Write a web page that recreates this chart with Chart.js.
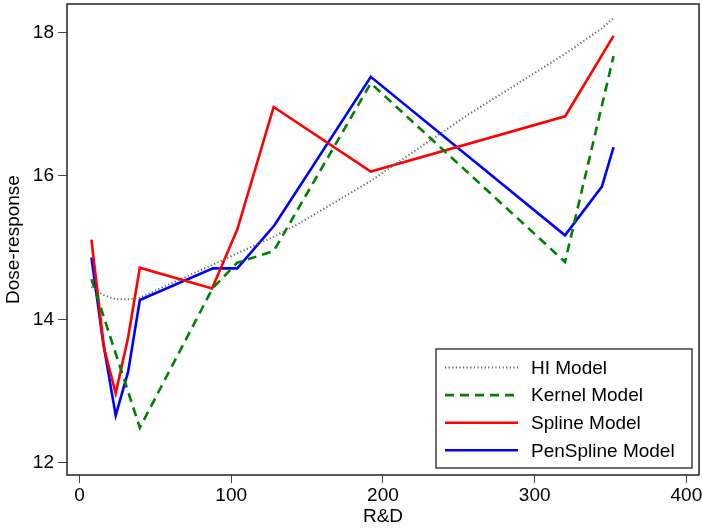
<!DOCTYPE html>
<html>
<head>
<meta charset="utf-8">
<script src="https://cdn.jsdelivr.net/npm/chart.js@4/dist/chart.umd.min.js"></script>
<style>
  html, body { margin: 0; padding: 0; background: #fff; }
  #wrap { width: 702px; height: 528px; }
</style>
</head>
<body>
<div id="wrap"><canvas id="c" width="702" height="528"></canvas></div>
<script>
// Dose-response curves of four models over R&D.

var X_TICKS = [0, 100, 200, 300, 400];
var Y_TICKS = [12, 14, 16, 18];

// HI model (smooth, dotted)
var RD_HI = [7.9, 15.6, 23.9, 32.1, 39.8, 52.9, 87.7, 104.0, 128.0, 145.0, 192.0, 256.0, 320.0, 344.0, 352.0];
var HI = [14.45, 14.34, 14.28, 14.28, 14.30, 14.43, 14.76, 14.92, 15.15, 15.34, 15.93, 16.85, 17.70, 18.05, 18.20];

// Kernel model (dashed green)
var RD_KERNEL = [7.9, 39.8, 87.7, 104.0, 128.0, 192.0, 320.0, 352.0];
var KERNEL = [14.56, 12.49, 14.43, 14.79, 14.95, 17.29, 14.80, 17.67];

// Spline model (red)
var RD_SPLINE = [7.9, 16.2, 23.9, 32.1, 39.8, 87.4, 104.0, 128.0, 192.0, 320.1, 352.0];
var SPLINE = [15.11, 13.60, 12.97, 13.75, 14.72, 14.43, 15.25, 16.96, 16.06, 16.83, 17.95];

// PenSpline model (blue)
var RD_PEN = [7.9, 15.6, 23.9, 32.1, 39.8, 88.0, 104.0, 128.5, 192.0, 320.0, 344.3, 352.0];
var PEN = [14.86, 13.68, 12.66, 13.27, 14.27, 14.71, 14.71, 15.31, 17.38, 15.17, 15.85, 16.40];

var FONT = "'Liberation Sans', Arial, sans-serif";

function pts(xs, ys) {
  return xs.map(function (x, i) { return { x: x, y: ys[i] }; });
}

// R-style box round the plot region
var boxPlugin = {
  id: "box",
  afterDatasetsDraw: function (chart) {
    var a = chart.chartArea, ctx = chart.ctx;
    ctx.save();
    ctx.strokeStyle = "#222";
    ctx.lineWidth = 1.5;
    ctx.strokeRect(a.left, a.top, a.right - a.left, a.bottom - a.top);
    ctx.restore();
  }
};

// legend box in the lower right, like R's legend()
var legendPlugin = {
  id: "rlegend",
  afterDraw: function (chart) {
    var ctx = chart.ctx;
    var bx = 436, by = 349, bw = 256, bh = 119;
    ctx.save();
    ctx.fillStyle = "#fff";
    ctx.fillRect(bx, by, bw, bh);
    ctx.strokeStyle = "#222";
    ctx.lineWidth = 1.3;
    ctx.strokeRect(bx, by, bw, bh);
    ctx.font = "19px " + FONT;
    ctx.textBaseline = "middle";
    ctx.textAlign = "left";
    chart.data.datasets.forEach(function (ds, i) {
      var y = 367.5 + i * 27.6;
      ctx.beginPath();
      ctx.setLineDash(ds.borderDash || []);
      ctx.strokeStyle = ds.borderColor;
      ctx.lineWidth = ds.borderWidth;
      ctx.moveTo(445, y);
      ctx.lineTo(518, y);
      ctx.stroke();
      ctx.setLineDash([]);
      ctx.fillStyle = "#000";
      ctx.fillText(ds.label, 531, y + 1);
    });
    ctx.restore();
  }
};

new Chart(document.getElementById("c"), {
  type: "line",
  data: {
    datasets: [
      { label: "HI Model", data: pts(RD_HI, HI), borderColor: "#666", borderWidth: 2,
        borderDash: [1.2, 2.4], pointRadius: 0, tension: 0, fill: false },
      { label: "Kernel Model", data: pts(RD_KERNEL, KERNEL), borderColor: "#008000", borderWidth: 2.6,
        borderDash: [9, 6], pointRadius: 0, tension: 0, fill: false },
      { label: "Spline Model", data: pts(RD_SPLINE, SPLINE), borderColor: "#ff0000", borderWidth: 2.6,
        pointRadius: 0, tension: 0, fill: false },
      { label: "PenSpline Model", data: pts(RD_PEN, PEN), borderColor: "#0000ff", borderWidth: 2.6,
        pointRadius: 0, tension: 0, fill: false }
    ]
  },
  options: {
    responsive: false,
    animation: false,
    devicePixelRatio: 1,
    layout: { padding: { left: 0, top: 4, right: 3, bottom: 0 } },
    plugins: { legend: { display: false }, tooltip: { enabled: false } },
    scales: {
      x: {
        type: "linear",
        min: -8.2, max: 408.3,
        afterBuildTicks: function (s) { s.ticks = X_TICKS.map(function (v) { return { value: v }; }); },
        afterFit: function (s) { s.height = 53; s.paddingLeft = 0; s.paddingRight = 0; },
        grid: { drawOnChartArea: false, drawTicks: true, tickLength: 8, tickColor: "#444", tickWidth: 1 },
        border: { display: false },
        ticks: { color: "#000", padding: 1, maxRotation: 0, font: { family: FONT, size: 19 } },
        title: { display: true, text: "R&D", color: "#000", padding: { top: 0, bottom: 0 },
                 font: { family: FONT, size: 19 } }
      },
      y: {
        type: "linear",
        min: 11.83, max: 18.395,
        afterBuildTicks: function (s) { s.ticks = Y_TICKS.map(function (v) { return { value: v }; }); },
        afterFit: function (s) { s.width = 67; s.paddingTop = 0; s.paddingBottom = 0; },
        grid: { drawOnChartArea: false, drawTicks: true, tickLength: 9, tickColor: "#444", tickWidth: 1 },
        border: { display: false },
        ticks: { color: "#000", padding: 4, font: { family: FONT, size: 19 } },
        title: { display: true, text: "Dose-response", color: "#000", padding: { top: 2, bottom: 0 },
                 font: { family: FONT, size: 19 } }
      }
    }
  },
  plugins: [boxPlugin, legendPlugin]
});
</script>
</body>
</html>
